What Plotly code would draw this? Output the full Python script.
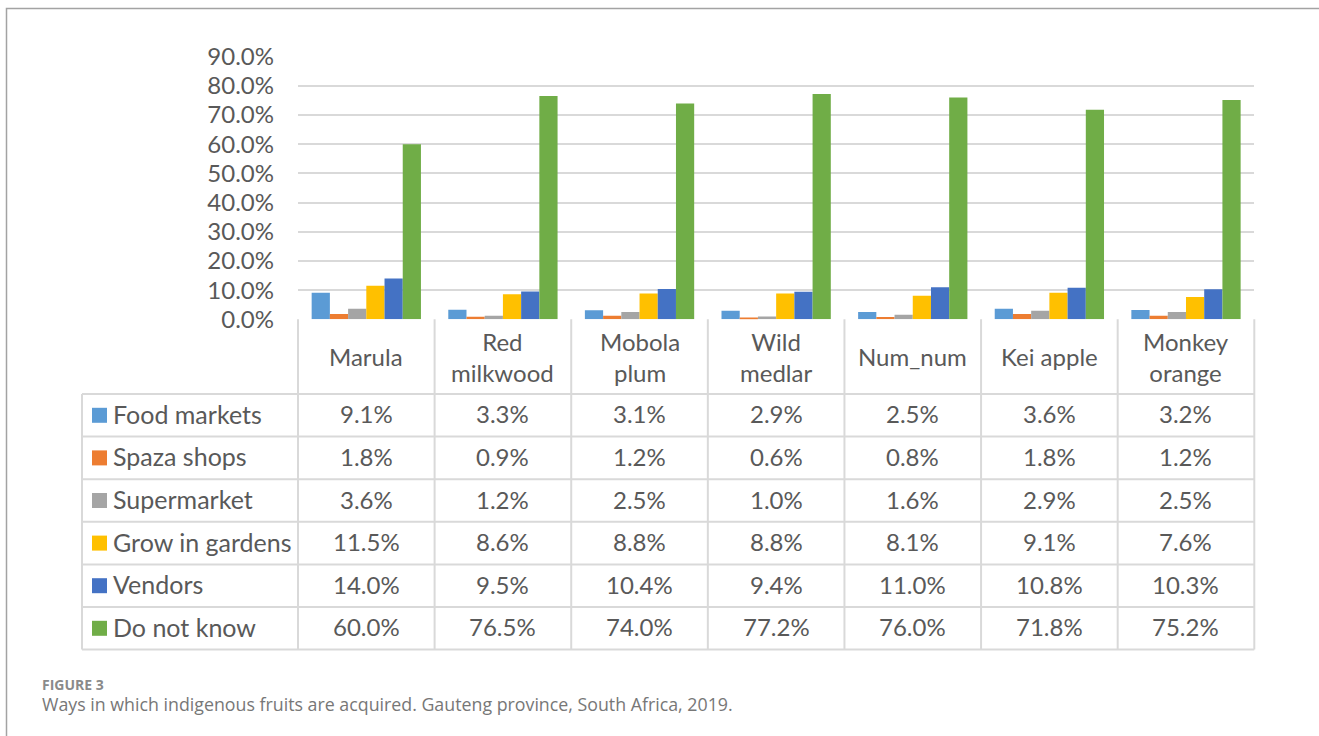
import plotly.graph_objects as go

# ---- data ----
categories = ["Marula", "Red<br>milkwood", "Mobola<br>plum", "Wild<br>medlar", "Num_num", "Kei apple", "Monkey<br>orange"]
series_names = ["Food markets", "Spaza shops", "Supermarket", "Grow in gardens", "Vendors", "Do not know"]
food_markets = [9.1, 3.3, 3.1, 2.9, 2.5, 3.6, 3.2]
spaza_shops = [1.8, 0.9, 1.2, 0.6, 0.8, 1.8, 1.2]
supermarket = [3.6, 1.2, 2.5, 1.0, 1.6, 2.9, 2.5]
grow_in_gardens = [11.5, 8.6, 8.8, 8.8, 8.1, 9.1, 7.6]
vendors = [14.0, 9.5, 10.4, 9.4, 11.0, 10.8, 10.3]
do_not_know = [60.0, 76.5, 74.0, 77.2, 76.0, 71.8, 75.2]
series_values = [food_markets, spaza_shops, supermarket, grow_in_gardens, vendors, do_not_know]
colors = ["#5B9BD5", "#ED7D31", "#A5A5A5", "#FFC000", "#4472C4", "#70AD47"]
y_ticks = [0, 0.1, 0.2, 0.3, 0.4, 0.5, 0.6, 0.7, 0.8, 0.9]
caption_label = "FIGURE 3"
caption_text = "Ways in which indigenous fruits are acquired. Gauteng province, South Africa, 2019."

# ---- layout geometry (pixels) ----
W, H = 1319, 736
PX0, PX1 = 298, 1254.3
PY_TOP, PY_BOT = 56.7, 319.3
TABLE_LEFT = 82
HEADER_BOT = 394
ROW_H = 42.6
FONT = "Lato, Open Sans, sans-serif"
CAP_FONT = "Open Sans, Lato, sans-serif"
TXT = "#595959"
LINE = "#d9d9d9"


def fx(x):
    return x / W


def fy(y):
    return 1 - y / H


fig = go.Figure()
for name, vals, col in zip(series_names, series_values, colors):
    fig.add_trace(go.Bar(
        x=list(range(len(categories))), y=[v / 100 for v in vals], name=name,
        marker=dict(color=col, line=dict(width=0)), showlegend=False,
    ))

shapes = []
annotations = []
ncat = len(categories)
colw = (PX1 - PX0) / ncat
nrow = len(series_names)
table_bot = HEADER_BOT + nrow * ROW_H

# vertical lines of the table
for k in range(ncat + 1):
    x = PX0 + k * colw
    shapes.append(dict(type="line", xref="paper", yref="paper", x0=fx(x), x1=fx(x),
                       y0=fy(PY_BOT), y1=fy(table_bot), line=dict(color=LINE, width=2)))
shapes.append(dict(type="line", xref="paper", yref="paper", x0=fx(TABLE_LEFT), x1=fx(TABLE_LEFT),
                   y0=fy(HEADER_BOT), y1=fy(table_bot), line=dict(color=LINE, width=2)))
# horizontal lines
for r in range(nrow + 1):
    y = HEADER_BOT + r * ROW_H
    shapes.append(dict(type="line", xref="paper", yref="paper", x0=fx(TABLE_LEFT), x1=fx(PX1),
                       y0=fy(y), y1=fy(y), line=dict(color=LINE, width=2)))

# header category names
for i, c in enumerate(categories):
    annotations.append(dict(text=c, xref="paper", yref="paper", x=fx(PX0 + (i + 0.5) * colw),
                            y=fy((PY_BOT + HEADER_BOT) / 2), xanchor="center", yanchor="middle",
                            showarrow=False, font=dict(family=FONT, size=24, color=TXT)))

# rows
for r, (name, vals, col) in enumerate(zip(series_names, series_values, colors)):
    yc = HEADER_BOT + (r + 0.5) * ROW_H
    shapes.append(dict(type="rect", xref="paper", yref="paper", x0=fx(92), x1=fx(107),
                       y0=fy(yc - 7.5), y1=fy(yc + 7.5), fillcolor=col, line=dict(width=0)))
    annotations.append(dict(text=name, xref="paper", yref="paper", x=fx(111), y=fy(yc - 1.5),
                            xanchor="left", yanchor="middle", showarrow=False,
                            font=dict(family=FONT, size=25, color=TXT)))
    for i, v in enumerate(vals):
        annotations.append(dict(text=f"{v:.1f}%", xref="paper", yref="paper",
                                x=fx(PX0 + (i + 0.5) * colw), y=fy(yc - 1.5), xanchor="center",
                                yanchor="middle", showarrow=False,
                                font=dict(family=FONT, size=24, color=TXT)))

# outer frame (open towards bottom/right edges of the page)
shapes.append(dict(type="rect", xref="paper", yref="paper", x0=fx(6.5), x1=fx(1340),
                   y0=fy(8.5), y1=fy(760), line=dict(color="#a3a3a3", width=1.5),
                   fillcolor="rgba(0,0,0,0)", layer="below"))

# caption
annotations.append(dict(text="<b>" + caption_label + "</b>", xref="paper", yref="paper", x=fx(40),
                        y=fy(684), xanchor="left", yanchor="middle", showarrow=False,
                        font=dict(family=CAP_FONT, size=14, color="#8a8a8a")))
annotations.append(dict(text=caption_text, xref="paper", yref="paper", x=fx(40),
                        y=fy(704), xanchor="left", yanchor="middle", showarrow=False,
                        font=dict(family=CAP_FONT, size=17.8, color="#777777")))

fig.update_layout(
    width=W, height=H, margin=dict(l=0, r=0, t=0, b=0, pad=0, autoexpand=False),
    paper_bgcolor="white", plot_bgcolor="white",
    barmode="group", bargap=0.2, bargroupgap=0,
    shapes=shapes, annotations=annotations,
    xaxis=dict(domain=[fx(PX0), fx(PX1)], range=[-0.5, ncat - 0.5], showticklabels=False,
               showgrid=False, zeroline=False, showline=False, fixedrange=True, automargin=False),
    yaxis=dict(domain=[fy(PY_BOT), fy(PY_TOP)], range=[0, 0.9], tickvals=y_ticks,
               tickformat=".1%", showgrid=True, gridcolor=LINE, gridwidth=1.5,
               zeroline=False, showline=False, ticks="", ticklabelstandoff=23, automargin=False,
               tickfont=dict(family=FONT, size=24, color=TXT)),
    font=dict(family=FONT, color=TXT),
)

fig.write_html("out.html", config={"displayModeBar": False})
